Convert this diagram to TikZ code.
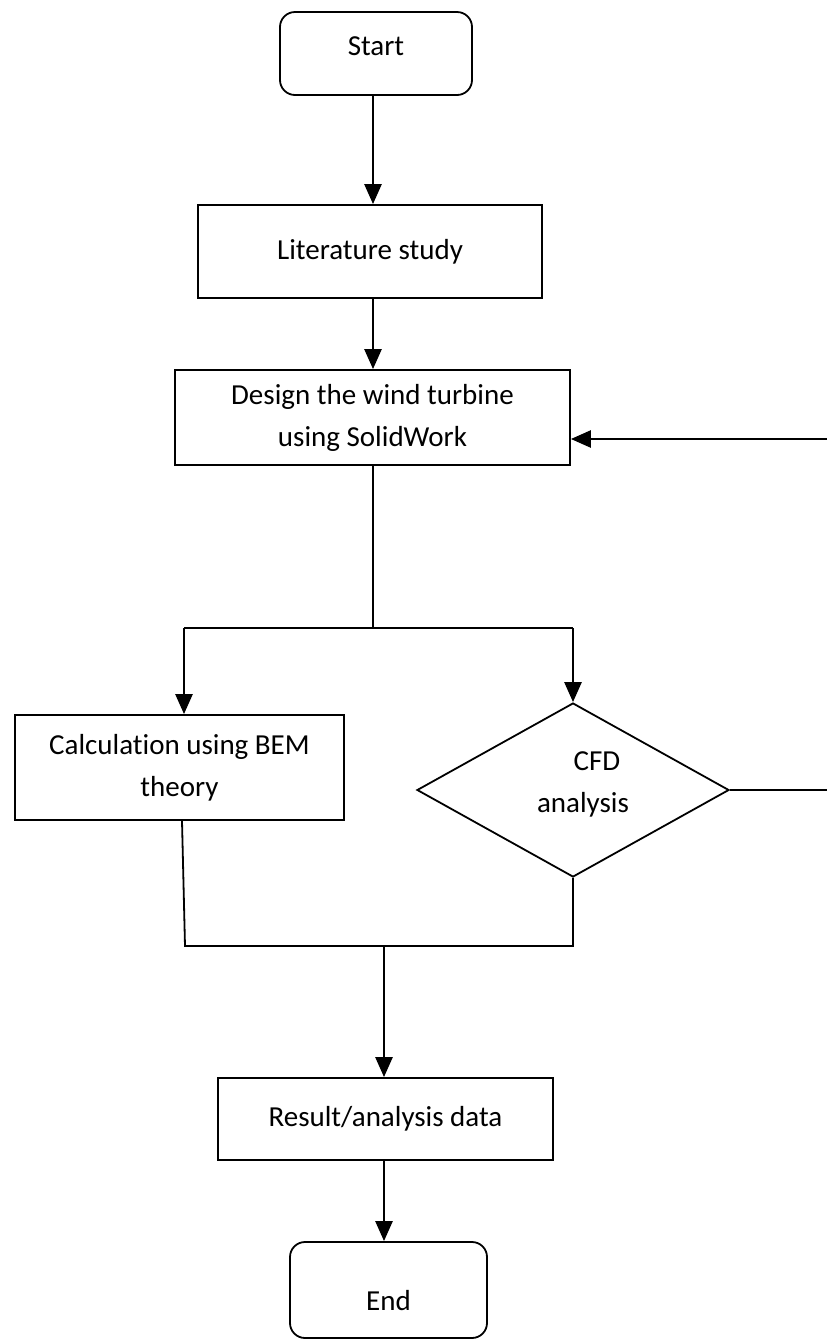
\documentclass[tikz,border=0pt]{standalone}
\usepackage{fontspec}
\setmainfont[Ligatures=NoCommon]{Carlito}
\usetikzlibrary{arrows.meta,shapes.geometric}
\begin{document}
\begin{tikzpicture}[x=1pt,y=-1pt,
  box/.style={draw,line width=1.8pt,inner sep=0pt,align=center,font=\fontsize{29}{42}\selectfont},
  term/.style={box,rounded corners=15pt},
  arr/.style={line width=2.6pt,-{Triangle[width=17pt,length=20pt]}},
  ln/.style={line width=1.8pt}]
\useasboundingbox (0,0) rectangle (827,1342);
\node[term,minimum width=192pt,minimum height=83pt,text height=20pt,text depth=16pt] (start) at (376,53.5) {Start};
\node[box,minimum width=344pt,minimum height=93pt] (lit) at (370,251.5) {Literature study};
\node[box,minimum width=395pt,minimum height=95pt] (design) at (372.5,417.5) {Design the wind turbine\\using SolidWork};
\node[box,minimum width=329pt,minimum height=105pt] (bem) at (179.5,767.5) {Calculation using BEM\\theory};
\node[box,diamond,aspect=1.79,minimum width=312pt,minimum height=174pt] (cfd) at (573,790) {\hspace*{48pt}CFD\\\hspace*{20pt}analysis\\[-38pt]\strut};
\node[box,minimum width=335pt,minimum height=82pt] (res) at (385.5,1119) {Result/analysis data};
\node[term,minimum width=197pt,minimum height=96pt,text height=40pt,text depth=0pt] (end) at (388.5,1290) {End};

\draw[arr] (start.south -| 373,0) -- (lit.north -| 373,0);
\draw[arr] (lit.south -| 373,0) -- (design.north -| 373,0);
\coordinate (rin) at (827,439);
\draw[arr] (rin) -- (rin -| design.east);
\coordinate (j1) at (373,628);
\coordinate (jl) at (184,628);
\coordinate (jr) at (573,628);
\draw[ln] (design.south -| j1) -- (j1);
\draw[ln] (jl) -- (jr);
\draw[arr] (jl) -- (jl |- bem.north);
\draw[arr] (jr) -- (cfd.north);
\coordinate (rout) at (827,790);
\draw[ln] (cfd.east) -- (rout);
\coordinate (bl) at (185,946);
\coordinate (br) at (573,946);
\draw[ln] ([xshift=2.5pt]bem.south) -- (bl) -- (br) -- (cfd.south);
\coordinate (j2) at (384,946);
\draw[arr] (j2) -- (j2 |- res.north);
\draw[arr] (res.south -| j2) -- (end.north -| j2);
\end{tikzpicture}
\end{document}
